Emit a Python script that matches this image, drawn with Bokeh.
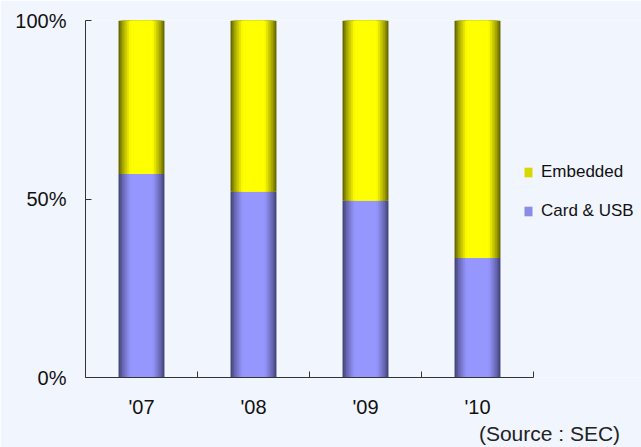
from bokeh.plotting import figure
from bokeh.models import (FixedTicker, Range1d, Legend, LegendItem, LinearAxis,
                          ColumnDataSource)
from bokeh.embed import file_html
from bokeh.resources import INLINE

years = ["'07", "'08", "'09", "'10"]
card_usb = [57, 52, 49.5, 33.5]
embedded = [43, 48, 50.5, 66.5]
y_ticks = [0, 50, 100]
y_tick_labels = ["0%", "50%", "100%"]
source_text = "(Source : SEC)"

BG = "#F1F5FD"
FONT = "Liberation Sans"
W, H = 641, 447
LEFT, TOP, BOTTOM = 85, 20, 70
CAT_PX = 112  # pixels per category slot

x_end = (W - LEFT) / CAT_PX
p = figure(width=W, height=H, output_backend="svg", toolbar_location=None,
           x_range=Range1d(0, x_end), y_range=Range1d(0, 100))
p.min_border_left = LEFT
p.min_border_right = 0
p.min_border_top = TOP
p.min_border_bottom = BOTTOM
p.background_fill_color = BG
p.border_fill_color = BG
p.outline_line_color = None
p.grid.visible = False

xs = [i + 0.5 for i in range(len(years))]
tops = [c + e for c, e in zip(card_usb, embedded)]
src = ColumnDataSource(dict(x=xs, card=card_usb, top=tops, zero=[0] * len(xs)))

def lerp(c1, c2, t):
    return "#%02x%02x%02x" % tuple(int(round(a + (b - a) * t)) for a, b in zip(c1, c2))

bw = 0.41
steps = 9
blue_edge, blue_mid = (70, 70, 125), (150, 150, 255)
yel_edge, yel_mid = (105, 105, 0), (255, 255, 0)
for k in range(steps):
    t = k / (steps - 1)
    w = bw * (1 - 0.6 * t)
    tt = min(1.0, t * 1.25) ** 0.8
    p.vbar(x="x", bottom="zero", top="card", width=w, source=src,
           fill_color=lerp(blue_edge, blue_mid, tt), line_color=None)
    p.vbar(x="x", bottom="card", top="top", width=w, source=src,
           fill_color=lerp(yel_edge, yel_mid, tt), line_color=None)

# legend proxies
r_emb = p.vbar(x=[-10], top=[1], width=0.1, fill_color="#D8D800", line_color=None)
r_card = p.vbar(x=[-10], top=[1], width=0.1, fill_color="#8C8CE6", line_color=None)
legend = Legend(items=[LegendItem(label="Embedded", renderers=[r_emb]),
                       LegendItem(label="Card & USB", renderers=[r_card])],
                location=(438, 156), orientation="vertical")
legend.background_fill_alpha = 0
legend.border_line_color = None
legend.padding = 0
legend.margin = 0
legend.spacing = 19
legend.label_height = 20
legend.glyph_width = 10
legend.glyph_height = 12
legend.label_standoff = 8
legend.label_text_font = FONT
legend.label_text_font_size = "17px"
legend.label_text_color = "#111111"
p.add_layout(legend, "center")

# axes
p.xaxis.ticker = FixedTicker(ticks=xs, minor_ticks=[1, 2, 3, 4])
p.xaxis.bounds = (0, len(years))
p.xaxis.major_label_overrides = {x: y for x, y in zip(xs, years)}
p.xaxis.major_tick_out = 0
p.xaxis.major_tick_in = 0
p.xaxis.minor_tick_in = 6
p.xaxis.minor_tick_out = 0
p.xaxis.major_label_standoff = 18
p.yaxis.ticker = FixedTicker(ticks=y_ticks, minor_ticks=[])
p.yaxis.major_label_overrides = {t: l for t, l in zip(y_ticks, y_tick_labels)}
p.yaxis.major_tick_in = 6
p.yaxis.major_tick_out = 0
p.yaxis.minor_tick_out = 0
p.yaxis.major_label_standoff = 19
for ax in (p.xaxis, p.yaxis):
    ax.axis_line_color = "#333333"
    ax.minor_tick_line_color = "#333333"
    ax.major_label_text_font = FONT
    ax.major_label_text_font_size = "20px"
    ax.major_label_text_color = "#111111"
p.xaxis.major_tick_line_color = None
p.yaxis.major_tick_line_color = "#333333"

# source note as a tick label of a second, bare axis below
SRC_CENTER_PX = 549
p.extra_x_ranges = {"src": Range1d(0, (W - LEFT) / (SRC_CENTER_PX - LEFT))}
src_axis = LinearAxis(x_range_name="src", ticker=FixedTicker(ticks=[1], minor_ticks=[]),
                      major_label_overrides={1: source_text})
src_axis.axis_line_color = None
src_axis.major_tick_line_color = None
src_axis.minor_tick_line_color = None
src_axis.major_tick_out = 0
src_axis.major_tick_in = 0
src_axis.minor_tick_out = 0
src_axis.major_label_standoff = 1
src_axis.major_label_text_font = FONT
src_axis.major_label_text_font_size = "21px"
src_axis.major_label_text_color = "#222222"
p.add_layout(src_axis, "below")

open("out.html", "w").write(file_html(p, INLINE))
